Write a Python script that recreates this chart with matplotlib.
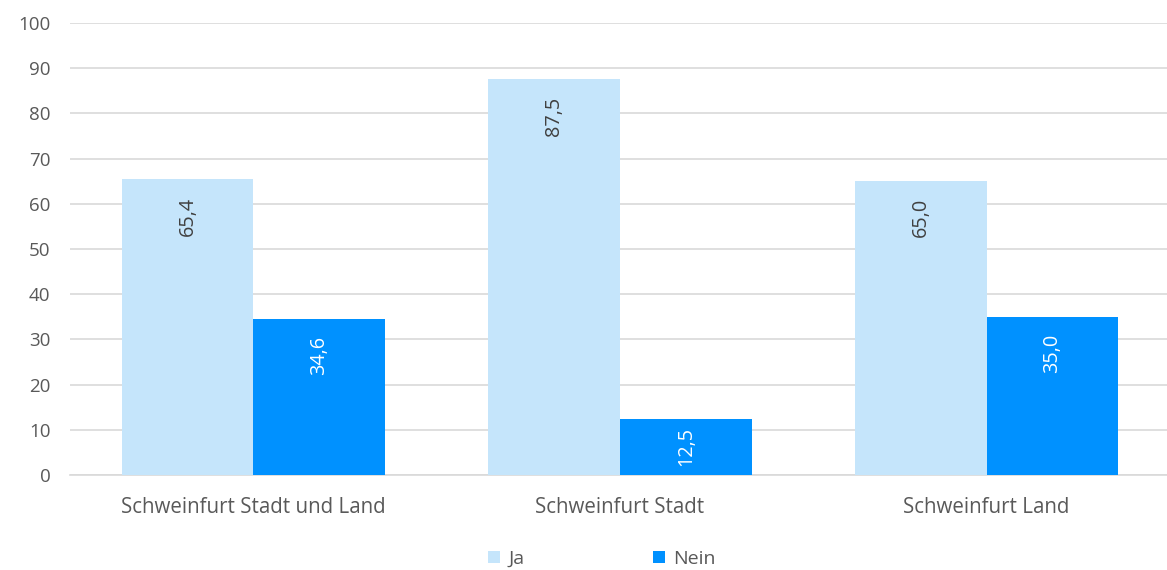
import matplotlib
matplotlib.use("Agg")
import matplotlib.pyplot as plt
import numpy as np

categories = ["Schweinfurt Stadt und Land", "Schweinfurt Stadt", "Schweinfurt Land"]
ja = [65.4, 87.5, 65.0]
nein = [34.6, 12.5, 35.0]
series_names = ["Ja", "Nein"]
yticks = [0, 10, 20, 30, 40, 50, 60, 70, 80, 90, 100]

plt.rcParams['font.family'] = ['Open Sans', 'DejaVu Sans']

fig = plt.figure(figsize=(11.67, 5.70), dpi=100)
ax = fig.add_axes([70/1167, 95/570, 1100/1167, 452/570])

x = np.arange(len(categories))
w = 0.359
c_ja = "#C5E5FB"
c_nein = "#0091FF"
b1 = ax.bar(x - w/2, ja, w, color=c_ja, label=series_names[0], zorder=3)
b2 = ax.bar(x + w/2, nein, w, color=c_nein, label=series_names[1], zorder=3)

ax.set_xlim(-0.5, 2.5)
ax.set_ylim(0, 100)

def fmt(v):
    return f"{v:.1f}".replace(".", ",")

px_per_unit = 452 / 100.0
label_len_px = 40.0
offset_px = 17.0
for bars, vals, col in [(b1, ja, "#404040"), (b2, nein, "white")]:
    for b, v in zip(bars, vals):
        h_px = v * px_per_unit
        cx = b.get_x() + b.get_width()/2
        if h_px < label_len_px + 2 * offset_px:
            ax.text(cx, v / 2, fmt(v), rotation=90, ha="center", va="center",
                    color=col, fontsize=14.3, zorder=4)
        else:
            ax.annotate(fmt(v), (cx, v), xytext=(0, -offset_px * 0.72),
                        textcoords="offset points", rotation=90, ha="center", va="top",
                        color=col, fontsize=14.3, zorder=4)

ax.set_yticks(yticks)
ax.set_xticks(x)
ax.set_xticklabels(categories)
ax.tick_params(axis="both", length=0, labelsize=13.5, colors="#595959")
ax.tick_params(axis="x", labelsize=14.8, pad=16)
ax.tick_params(axis="y", pad=14)
ax.grid(axis="y", color="#D9D9D9", linewidth=1.2, zorder=0)
for s in ["top", "right", "left"]:
    ax.spines[s].set_visible(False)
ax.spines["bottom"].set_color("#D9D9D9")
ax.spines["bottom"].set_linewidth(1.2)

leg = fig.legend(loc="center", bbox_to_anchor=(602/1167, 1 - 559/570), ncol=2,
                 frameon=False, fontsize=14, handlelength=0.6, handleheight=0.6,
                 columnspacing=6.6, handletextpad=0.45)
for t in leg.get_texts():
    t.set_color("#595959")

fig.savefig("out.png", dpi=100)
